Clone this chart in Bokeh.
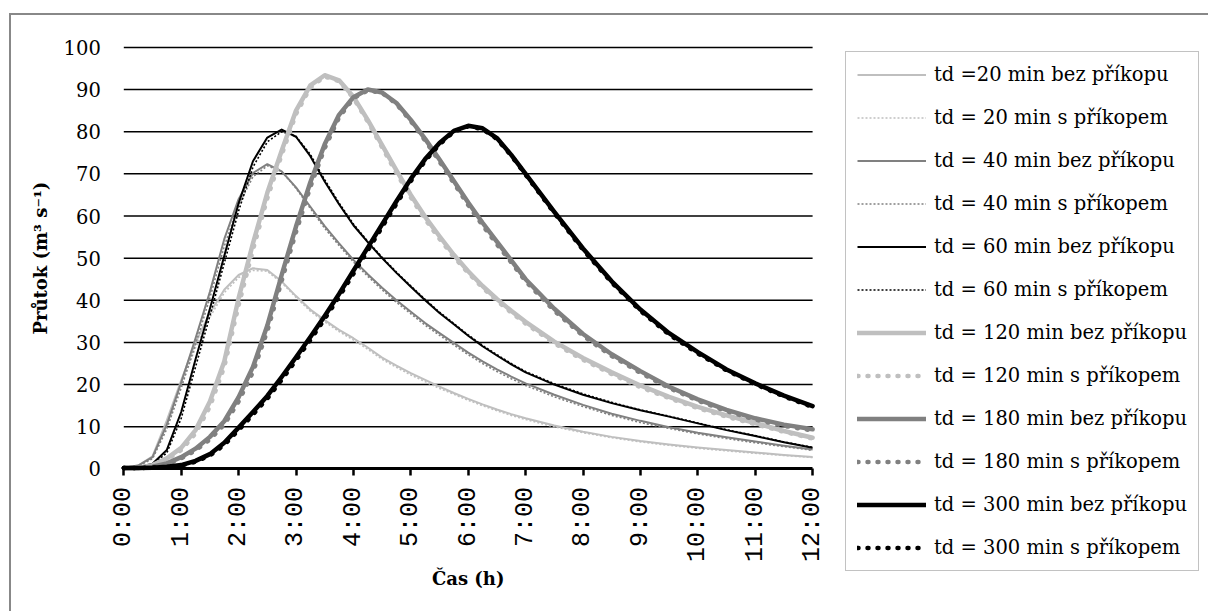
import math
from bokeh.plotting import figure
from bokeh.models import FixedTicker, Legend, LegendItem, Range1d
from bokeh.core.properties import value
from bokeh.embed import file_html
from bokeh.resources import INLINE

# ---------------- data ----------------
time_h = [0, 0.25, 0.5, 0.75, 1, 1.25, 1.5, 1.75, 2, 2.25, 2.5, 2.75, 3, 3.25, 3.5, 3.75,
          4, 4.25, 4.5, 4.75, 5, 5.25, 5.5, 5.75, 6, 6.25, 6.5, 6.75, 7,
          7.5, 8, 8.5, 9, 9.5, 10, 10.5, 11, 11.5, 12]

x_tick_values = [0, 1, 2, 3, 4, 5, 6, 7, 8, 9, 10, 11, 12]
x_tick_labels = ["0:00", "1:00", "2:00", "3:00", "4:00", "5:00", "6:00",
                 "7:00", "8:00", "9:00", "10:00", "11:00", "12:00"]
y_tick_values = [0, 10, 20, 30, 40, 50, 60, 70, 80, 90, 100]
x_title = "Čas (h)"
y_title = "Průtok (m³ s⁻¹)"

series_names = ["td =20 min bez příkopu", "td = 20 min s příkopem",
                "td = 40 min bez příkopu", "td = 40 min s příkopem",
                "td = 60 min bez příkopu", "td = 60 min s příkopem",
                "td = 120 min bez příkopu", "td = 120 min s příkopem",
                "td = 180 min bez příkopu", "td = 180 min s příkopem",
                "td = 300 min bez příkopu", "td = 300 min s příkopem"]

q20_bez = [0.3, 0.8, 3.0, 11.5, 21.0, 30.0, 37.0, 42.5, 46.0, 47.6, 47.2, 44.5, 41.0, 37.8, 35.3, 33.0,
           31.0, 28.8, 26.4, 24.5, 22.7, 21.1, 19.5, 18.0, 16.6, 15.3, 14.1, 13.0, 12.0,
           10.3, 8.8, 7.6, 6.6, 5.8, 5.1, 4.5, 3.9, 3.3, 2.8]
q20_s = [0.3, 0.7, 2.6, 10.5, 19.8, 28.8, 36.0, 41.8, 45.4, 47.1, 46.9, 44.2, 40.7, 37.4, 34.9, 32.6,
         30.6, 28.4, 26.0, 24.1, 22.3, 20.7, 19.1, 17.7, 16.3, 15.0, 13.8, 12.7, 11.7,
         10.0, 8.6, 7.4, 6.4, 5.6, 4.9, 4.3, 3.7, 3.2, 2.7]
q40_bez = [0.3, 0.8, 2.8, 10.5, 20.5, 31.0, 42.0, 54.5, 64.0, 70.2, 72.3, 70.6, 66.8, 62.2, 57.6, 53.5,
           49.6, 46.2, 43.0, 40.0, 37.3, 34.6, 32.2, 29.9, 27.6, 25.5, 23.6, 21.9, 20.3,
           17.6, 15.2, 13.1, 11.4, 9.9, 8.6, 7.5, 6.5, 5.5, 4.6]
q40_s = [0.3, 0.7, 2.4, 9.5, 19.2, 29.6, 40.6, 52.8, 62.6, 69.3, 71.9, 70.6, 66.6, 61.8, 57.1, 53.0,
         49.1, 45.7, 42.5, 39.5, 36.8, 34.1, 31.7, 29.4, 27.1, 25.0, 23.1, 21.4, 19.8,
         17.1, 14.8, 12.7, 11.0, 9.6, 8.3, 7.2, 6.2, 5.3, 4.4]
q60_bez = [0.2, 0.4, 1.2, 4.5, 13.5, 26.0, 38.0, 50.5, 63.0, 73.0, 78.6, 80.5, 78.8, 74.2, 68.2, 62.8,
           57.8, 53.8, 50.0, 46.5, 43.2, 40.0, 37.0, 34.3, 31.6, 29.1, 26.9, 24.8, 22.9,
           20.0, 17.6, 15.6, 13.9, 12.4, 10.8, 9.2, 7.8, 6.3, 5.0]
q60_s = [0.2, 0.3, 1.0, 3.8, 12.0, 24.2, 36.3, 48.8, 61.2, 71.6, 77.6, 80.0, 78.9, 74.6, 68.6, 63.1,
         58.1, 54.0, 50.2, 46.7, 43.4, 40.2, 37.2, 34.5, 31.8, 29.3, 27.1, 25.0, 23.1,
         20.2, 17.8, 15.8, 14.0, 12.5, 10.9, 9.3, 7.9, 6.4, 5.1]
q120_bez = [0.2, 0.3, 0.9, 2.5, 5.0, 9.2, 16.0, 25.5, 40.5, 53.5, 65.5, 75.5, 85.0, 91.0, 93.4, 92.2,
            88.3, 82.8, 76.8, 70.8, 65.0, 59.8, 55.2, 50.8, 46.9, 43.4, 40.3, 37.5, 34.9,
            30.2, 26.3, 22.9, 19.8, 17.1, 14.7, 12.7, 10.9, 9.0, 7.4]
q120_s = [0.2, 0.3, 0.8, 2.2, 4.5, 8.4, 14.8, 24.2, 38.8, 52.0, 64.2, 74.5, 84.2, 90.5, 93.1, 92.0,
          88.0, 82.4, 76.3, 70.2, 64.4, 59.2, 54.6, 50.3, 46.5, 43.0, 39.9, 37.1, 34.5,
          29.8, 25.9, 22.5, 19.4, 16.8, 14.4, 12.4, 10.6, 8.8, 7.2]
q180_bez = [0.2, 0.2, 0.5, 1.3, 2.8, 4.8, 7.6, 11.3, 17.0, 24.2, 34.0, 46.0, 57.5, 68.0, 77.0, 84.0,
            88.2, 90.0, 89.3, 86.8, 82.8, 78.3, 73.4, 68.3, 63.2, 58.4, 53.9, 49.5, 45.0,
            38.0, 32.0, 27.2, 23.2, 19.5, 16.5, 14.0, 12.0, 10.5, 9.4]
q180_s = [0.2, 0.2, 0.4, 1.1, 2.5, 4.4, 7.0, 10.5, 16.0, 23.0, 32.7, 44.6, 56.2, 66.9, 76.1, 83.4,
          87.9, 89.8, 89.2, 86.6, 82.5, 77.9, 72.9, 67.8, 62.6, 57.8, 53.3, 49.0, 44.5,
          37.5, 31.6, 26.8, 22.8, 19.2, 16.2, 13.7, 11.7, 10.2, 9.1]
q300_bez = [0.2, 0.2, 0.3, 0.5, 0.9, 1.9, 3.5, 6.2, 9.8, 13.5, 17.3, 21.8, 26.5, 31.3, 36.3, 41.5,
            47.0, 52.5, 58.0, 63.5, 68.8, 73.5, 77.3, 80.2, 81.4, 80.8, 78.5, 74.5, 70.0,
            61.0, 52.3, 44.5, 37.8, 32.2, 27.7, 23.6, 20.3, 17.4, 14.9]
q300_s = [0.2, 0.2, 0.3, 0.4, 0.8, 1.7, 3.2, 5.7, 9.2, 12.9, 16.7, 21.1, 25.8, 30.6, 35.6, 40.8,
          46.3, 51.8, 57.4, 62.9, 68.3, 73.1, 77.0, 80.0, 81.3, 80.6, 78.3, 74.3, 69.8,
          60.7, 52.0, 44.2, 37.5, 31.9, 27.4, 23.4, 20.1, 17.2, 14.7]

series_values = [q20_bez, q20_s, q40_bez, q40_s, q60_bez, q60_s,
                 q120_bez, q120_s, q180_bez, q180_s, q300_bez, q300_s]

# ---------------- styles ----------------
LIGHT, MID, DARK = "#bfbfbf", "#808080", "#000000"
line_colors = [LIGHT, LIGHT, MID, MID, DARK, DARK, LIGHT, LIGHT, MID, MID, DARK, DARK]
line_widths = [2, 1.6, 2, 1.6, 2, 1.6, 4.5, 4.5, 4.5, 4.5, 4.5, 4.5]
line_dashes = ["solid", "2 2", "solid", "2 2", "solid", "2 2",
               "solid", "1 9", "solid", "1 9", "solid", "1 9"]
line_caps = ["butt", "butt", "butt", "butt", "butt", "butt",
             "round", "round", "round", "round", "round", "round"]

SERIF = "DejaVu Serif"

# ---------------- layout geometry (screen px) ----------------
FIG_W, FIG_H = 1197, 596          # figure placed at (11, 15) in the window
PX_PER_H = 57.4                   # horizontal scale
PX_PER_Q = 4.215                  # vertical scale
X0_PX, Y0_PX = 112.3, 453.4       # position of (0:00, 0) inside the figure
x_start = -X0_PX / PX_PER_H
x_end = (FIG_W - X0_PX) / PX_PER_H
y_start = -(FIG_H - Y0_PX) / PX_PER_Q
y_end = Y0_PX / PX_PER_Q

p = figure(width=FIG_W, height=FIG_H,
           x_range=Range1d(x_start, x_end), y_range=Range1d(y_start, y_end),
           output_backend="svg", toolbar_location=None,
           min_border_left=0, min_border_right=0, min_border_top=0, min_border_bottom=0)
p.margin = (15, 0, 0, 11)
p.styles = {"outline": "2px solid #888888"}
p.background_fill_color = "white"
p.border_fill_color = "white"
p.outline_line_color = None
p.xgrid.visible = False
p.ygrid.visible = False

# horizontal grid lines across the time span
grid_y = y_tick_values[1:]
p.segment(x0=[x_tick_values[0]] * len(grid_y), x1=[x_tick_values[-1]] * len(grid_y),
          y0=grid_y, y1=grid_y, line_color="black", line_width=1.5)

# x axis
xa = p.xaxis[0]
xa.fixed_location = 0
xa.bounds = (x_tick_values[0], x_tick_values[-1])
xa.ticker = FixedTicker(ticks=x_tick_values)
xa.major_label_overrides = {v: lab for v, lab in zip(x_tick_values, x_tick_labels)}
xa.major_label_orientation = math.pi / 2
xa.major_label_text_font = "Liberation Mono"
xa.major_label_text_font_size = "25px"
xa.major_label_text_color = "black"
xa.major_label_standoff = 11
xa.axis_line_color = "black"
xa.axis_line_width = 3
xa.major_tick_out = 7
xa.major_tick_in = 0
xa.major_tick_line_width = 2.5
xa.major_tick_line_color = "black"
xa.minor_tick_line_color = None

# y axis
ya = p.yaxis[0]
ya.fixed_location = 0
ya.bounds = (y_tick_values[0], y_tick_values[-1])
ya.ticker = FixedTicker(ticks=y_tick_values)
ya.axis_line_color = None
ya.major_tick_out = 0
ya.major_tick_in = 0
ya.minor_tick_line_color = None
ya.major_label_standoff = 23
ya.major_label_text_font = SERIF
ya.major_label_text_font_size = "19.5px"
ya.major_label_text_color = "black"

# axis titles
p.text(x=[(x_tick_values[0] + x_tick_values[-1]) / 2], y=[-110 / PX_PER_Q], text=[x_title],
       text_font=value(SERIF), text_font_style="bold", text_font_size=value("18px"),
       text_color="black", text_align="center", text_baseline="middle")
p.text(x=[-83 / PX_PER_H], y=[(y_tick_values[0] + y_tick_values[-1]) / 2], text=[y_title],
       angle=math.pi / 2,
       text_font=value(SERIF), text_font_style="bold", text_font_size=value("18px"),
       text_color="black", text_align="center", text_baseline="middle")

renderers = []
for vals, c, w, d, cap in zip(series_values, line_colors, line_widths, line_dashes, line_caps):
    r = p.line(time_h, vals, line_color=c, line_width=w, line_dash=d,
               line_cap=cap, line_join="round")
    renderers.append(r)

items = [LegendItem(label=n, renderers=[r]) for n, r in zip(series_names, renderers)]
leg = Legend(items=items, location=(834, 40), orientation="vertical",
             label_text_font=SERIF, label_text_font_size="19.5px", label_text_color="black",
             glyph_width=69, glyph_height=21, label_height=21, label_standoff=8,
             padding=11, spacing=20, margin=0,
             border_line_color="#868686", border_line_width=1.5,
             background_fill_color="white", background_fill_alpha=1.0)
p.add_layout(leg, "center")

open("out.html", "w").write(file_html(p, INLINE))
